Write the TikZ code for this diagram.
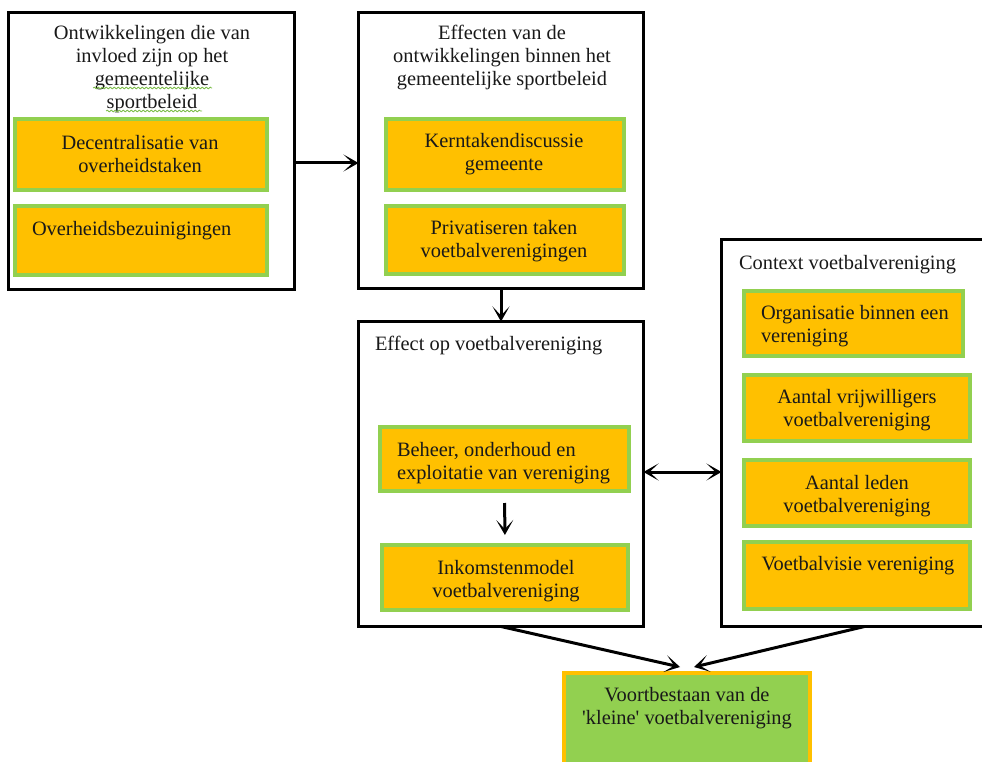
\documentclass[tikz,border=0pt]{standalone}
\usepackage{fontspec}
\setmainfont{Liberation Serif}[Ligatures=TeXOff]
\usetikzlibrary{arrows.meta,calc,decorations.pathmorphing}
\definecolor{orng}{HTML}{FFC000}
\definecolor{grn}{HTML}{92D050}
\definecolor{squig}{HTML}{7DBE4A}
\begin{document}
\begin{tikzpicture}[x=1pt,y=-1pt,
  every node/.style={font={\fontsize{20.4}{23}\selectfont}},
  obox/.style={draw=black,line width=3pt,fill=white,inner sep=0pt,outer sep=0pt,anchor=north west},
  ibox/.style={draw=grn,line width=4pt,fill=orng,inner sep=0pt,outer sep=0pt,anchor=north west},
  fbox/.style={draw=orng,line width=4pt,fill=grn,inner sep=0pt,outer sep=0pt,anchor=north west},
  txt/.style={inner sep=0pt,outer sep=0pt,anchor=north,align=center,text=black!90},
  ltxt/.style={inner sep=0pt,outer sep=0pt,anchor=north west,align=left,text=black!90},
  arr/.style={line width=3pt,-{Stealth[length=15pt,width=17pt,inset=9pt]}},
  darr/.style={line width=3pt,{Stealth[length=15pt,width=17pt,inset=9pt]}-{Stealth[length=15pt,width=17pt,inset=9pt]}},
  squiggle/.style={draw=squig,line width=0.8pt,decorate,decoration={snake,amplitude=0.9pt,segment length=4pt}}]
\useasboundingbox (0,0) rectangle (982,762);

% outer boxes
\node[obox,minimum width=286pt,minimum height=277pt] (b1) at (8.5,12.5) {};
\node[obox,minimum width=285pt,minimum height=276pt] (b2) at (358.5,12.5) {};
\node[obox,minimum width=285pt,minimum height=305pt] (b3) at (358.5,321.5) {};
\node[obox,minimum width=280pt,minimum height=387pt] (b4) at (721.5,239.5) {};

% titles
\node[txt] (t1) at (152,25) {Ontwikkelingen die van\\invloed zijn op het\\gemeentelijke\\sportbeleid};
\node[txt] (t2) at (502,25) {Effecten van de\\ontwikkelingen binnen het\\gemeentelijke sportbeleid};
\node[ltxt] (t3) at (375,336) {Effect op voetbalvereniging};
\node[ltxt] (t4) at (739,255) {Context voetbalvereniging};

% spell-check underlines
\draw[squiggle] (93,88) -- (212,88);
\draw[squiggle] (106,111) -- (202,111);

% inner boxes
\node[ibox,minimum width=252pt,minimum height=71pt] (d1) at (15,119) {};
\node[ibox,minimum width=252pt,minimum height=69pt] (d2) at (15,206) {};
\node[ibox,minimum width=238pt,minimum height=71pt] (k1) at (386,119) {};
\node[ibox,minimum width=238pt,minimum height=68pt] (k2) at (386,206) {};
\node[ibox,minimum width=249pt,minimum height=64pt] (e1) at (380,427) {};
\node[ibox,minimum width=246pt,minimum height=65pt] (e2) at (382,545) {};
\node[ibox,minimum width=219pt,minimum height=65pt] (c1) at (744,291) {};
\node[ibox,minimum width=226pt,minimum height=66pt] (c2) at (744,375) {};
\node[ibox,minimum width=226pt,minimum height=66pt] (c3) at (744,460) {};
\node[ibox,minimum width=226pt,minimum height=67pt] (c4) at (744,542) {};
\node[fbox,minimum width=246pt,minimum height=120pt] (f) at (564,673) {};

% inner texts
\node[txt] (d1t) at (140,135) {Decentralisatie van\\overheidstaken};
\node[ltxt] (d2t) at (32,221) {Overheidsbezuinigingen};
\node[txt] (k1t) at (504,133) {Kerntakendiscussie\\gemeente};
\node[txt] (k2t) at (504,220) {Privatiseren taken\\voetbalverenigingen};
\node[ltxt] (e1t) at (397,442) {Beheer, onderhoud en\\exploitatie van vereniging};
\node[txt] (e2t) at (506,560) {Inkomstenmodel\\voetbalvereniging};
\node[ltxt] (c1t) at (761,305) {Organisatie binnen een\\vereniging};
\node[txt] (c2t) at (857,389) {Aantal vrijwilligers\\voetbalvereniging};
\node[txt] (c3t) at (857,475) {Aantal leden\\voetbalvereniging};
\node[txt] (c4t) at (858,556) {Voetbalvisie vereniging};
\node[txt] (ft) at (687,687) {Voortbestaan van de\\'kleine' voetbalvereniging};

% connectors
\coordinate (ya) at (0,163);
\coordinate (yb) at (0,472);
\draw[arr] (b1.east |- ya) -- (b2.west |- ya);
\draw[arr] (b2.south) -- (b3.north);
\draw[arr,shorten <=12pt,shorten >=10pt] (e1.south) -- (e2.north);
\draw[darr] (b3.east |- yb) -- (b4.west |- yb);
\draw[arr] (b3.south) -- ($(f.north)+(-7,-6)$);
\draw[arr] ($(b4.south)+(3,0)$) -- ($(f.north)+(7,-6)$);
\end{tikzpicture}
\end{document}
